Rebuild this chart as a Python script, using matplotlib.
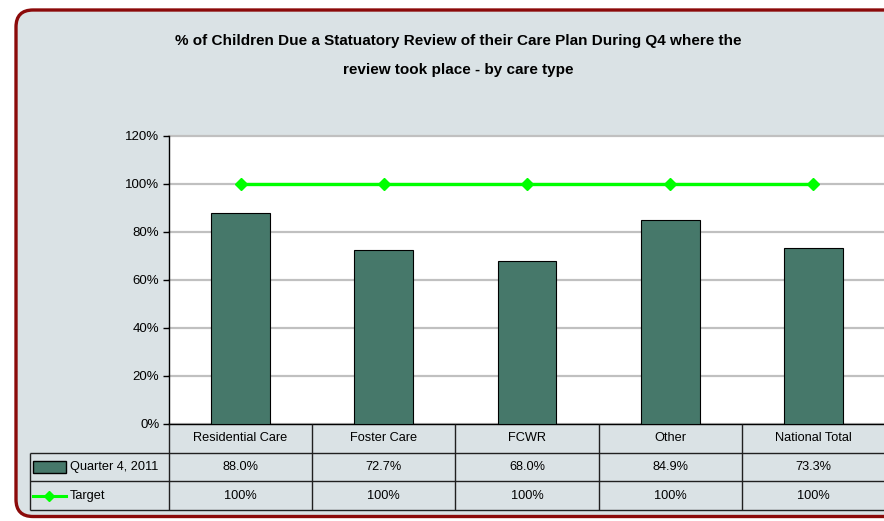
import numpy as np
import matplotlib
matplotlib.use("Agg")
import matplotlib.pyplot as plt
import matplotlib.font_manager as fm
from matplotlib.patches import FancyBboxPatch, Rectangle
from matplotlib.ticker import FuncFormatter

# --- data ---
categories = ["Residential Care", "Foster Care", "FCWR", "Other", "National Total"]
quarter_vals = [88.0, 72.7, 68.0, 84.9, 73.3]
target_vals = [100, 100, 100, 100, 100]
series_names = ["Quarter 4, 2011", "Target"]
y_ticks = [0, 20, 40, 60, 80, 100, 120]
title = ("% of Children Due a Statuatory Review of their Care Plan During Q4 where the\n"
         "review took place - by care type")

# --- style ---
BG = "#DAE2E5"
BAR = "#46786A"
GREEN = "#00FF00"
GRID = "#C0C0C0"
FRAME = "#8B0A0A"

names = {f.name for f in fm.fontManager.ttflist}
NARROW = "Liberation Sans Narrow" if "Liberation Sans Narrow" in names else "Liberation Sans"
REG = "Liberation Sans" if "Liberation Sans" in names else "DejaVu Sans"
has_narrow = NARROW != REG

W, H = 884, 521
fig = plt.figure(figsize=(W / 100, H / 100), dpi=100)
fig.patch.set_facecolor("white")

# rounded frame, placed in inches
frame = FancyBboxPatch((0.16, 0.045), 9.2, 5.065,
                       boxstyle="round,pad=0,rounding_size=0.17",
                       transform=fig.dpi_scale_trans,
                       facecolor=BG, edgecolor=FRAME, linewidth=2.4, zorder=0)
fig.add_artist(frame)

fig.text(458 / W, 1 - 55.5 / H, title, ha="center", va="center",
         fontsize=13 if has_narrow else 11, fontweight="bold",
         family=NARROW, linespacing=1.75 if has_narrow else 2.45)

# --- main plot ---
px_left, px_right, px_top, px_bot = 169, 885, 136, 424
ax = fig.add_axes([px_left / W, 1 - px_bot / H, (px_right - px_left) / W, (px_bot - px_top) / H])
ax.set_facecolor("white")
x = np.arange(len(categories))
ax.bar(x, quarter_vals, width=0.41, color=BAR, edgecolor="black", linewidth=0.8, zorder=3)
ax.plot(x, target_vals, color=GREEN, lw=2.4, marker="D", markersize=6.5, zorder=4)
ax.set_xlim(-0.5, len(categories) - 0.5)
ax.set_ylim(0, 120)
ax.set_yticks(y_ticks)
ax.yaxis.set_major_formatter(FuncFormatter(lambda v, p: f"{v:.0f}%"))
ax.yaxis.grid(True, color=GRID, lw=1.6)
for g in ax.get_ygridlines():
    g.set_clip_on(False)
ax.set_axisbelow(True)
for s in ["top", "right"]:
    ax.spines[s].set_visible(False)
ax.spines["left"].set_linewidth(1)
ax.spines["bottom"].set_linewidth(1)
ax.tick_params(axis="x", bottom=False, labelbottom=False)
ax.tick_params(axis="y", direction="out", length=4, width=1, labelsize=9.5, pad=3)
for t in ax.get_yticklabels():
    t.set_family(REG)

# --- data table ---
unit = (px_right - px_left) / len(categories)
tb_left = 30
leg_w = (px_left - tb_left) / unit
x0 = -0.5 - leg_w
tab = fig.add_axes([tb_left / W, 1 - 510 / H, (px_right - tb_left) / W, 86 / H])
tab.set_xlim(x0, len(categories) - 0.5)
tab.set_ylim(0, 3)
tab.axis("off")
lc = "#202020"
tab.hlines([0, 1, 2], x0, len(categories) - 0.5, color=lc, lw=1, clip_on=False)
tab.vlines(x0, 0, 2, color=lc, lw=1, clip_on=False)
tab.vlines(np.arange(len(categories) + 1) - 0.5, 0, 3, color=lc, lw=1, clip_on=False)

fs = 10 if has_narrow else 9.2
for i, c in enumerate(categories):
    tab.text(i, 2.5, c, ha="center", va="center", fontsize=fs, family=NARROW)
    tab.text(i, 1.5, f"{quarter_vals[i]:.1f}%", ha="center", va="center", fontsize=fs, family=NARROW)
    tab.text(i, 0.5, f"{target_vals[i]:.0f}%", ha="center", va="center", fontsize=fs, family=NARROW)

# legend keys
kx = x0 + 3 / unit
kw = 33 / unit
tab.add_patch(Rectangle((kx, 1.3), kw, 0.42, facecolor=BAR, edgecolor="black", lw=1))
tab.plot([kx, kx + kw], [0.5, 0.5], color=GREEN, lw=2.2)
tab.plot([kx + kw / 2], [0.5], color=GREEN, marker="D", markersize=5)
tx = x0 + 40 / unit
tab.text(tx, 1.5, series_names[0], ha="left", va="center", fontsize=fs, family=NARROW)
tab.text(tx, 0.5, series_names[1], ha="left", va="center", fontsize=fs, family=NARROW)

fig.savefig("out.png", dpi=100, facecolor=fig.get_facecolor())
